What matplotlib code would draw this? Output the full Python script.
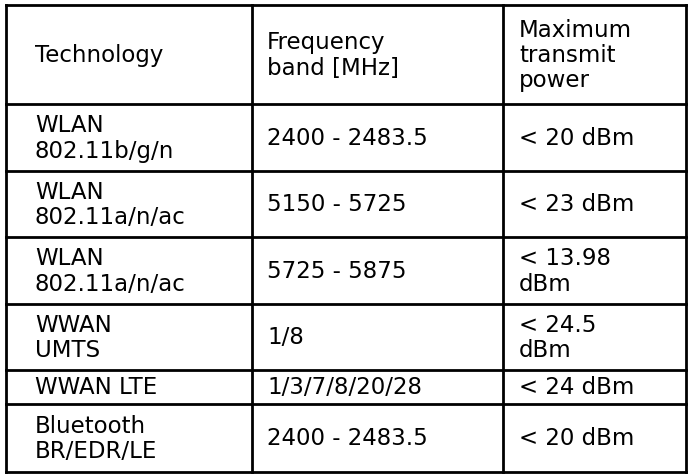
import matplotlib
matplotlib.use("Agg")
import matplotlib.pyplot as plt

headers = ["Technology", "Frequency\nband [MHz]", "Maximum\ntransmit\npower"]
technology = ["WLAN\n802.11b/g/n", "WLAN\n802.11a/n/ac", "WLAN\n802.11a/n/ac",
              "WWAN\nUMTS", "WWAN LTE", "Bluetooth\nBR/EDR/LE"]
band = ["2400 - 2483.5", "5150 - 5725", "5725 - 5875", "1/8", "1/3/7/8/20/28", "2400 - 2483.5"]
power = ["< 20 dBm", "< 23 dBm", "< 13.98\ndBm", "< 24.5\ndBm", "< 24 dBm", "< 20 dBm"]

W, H = 690, 477
fig = plt.figure(figsize=(W/100, H/100), dpi=100)
ax = fig.add_axes([0, 0, 1, 1])
ax.set_xlim(0, W); ax.set_ylim(H, 0); ax.axis("off")

col_x = [6, 252, 503, 686]
row_y = [6, 105, 172, 238, 305, 371, 405, 473]
lw = 2
for x in col_x:
    ax.plot([x, x], [row_y[0], row_y[-1]], color="black", lw=lw, solid_capstyle="projecting")
for y in row_y:
    ax.plot([col_x[0], col_x[-1]], [y, y], color="black", lw=lw, solid_capstyle="projecting")

fs = 16.5
kw = dict(fontsize=fs, family="DejaVu Sans", va="center", ha="left", linespacing=1.12, color="black")
text_x = [35, 267, 519]
rows = [headers] + [list(r) for r in zip(technology, band, power)]
for i, row in enumerate(rows):
    yc = (row_y[i] + row_y[i+1]) / 2
    for j, t in enumerate(row):
        ax.text(text_x[j], yc, t, **kw)

fig.savefig("out.png", dpi=100, facecolor="white")
